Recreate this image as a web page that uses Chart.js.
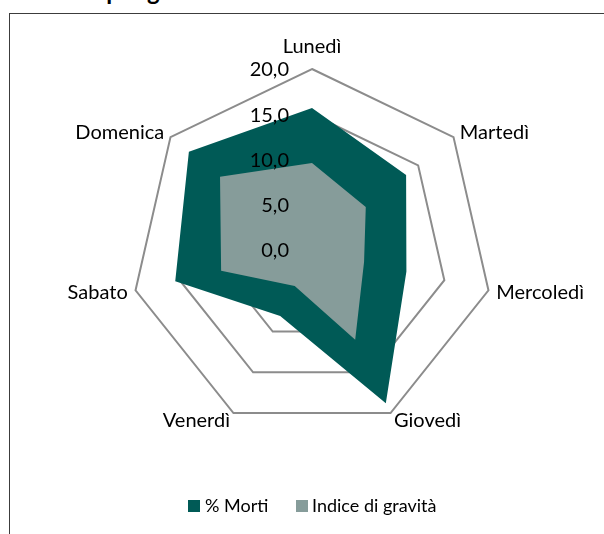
<!DOCTYPE html>
<html>
<head>
<meta charset="utf-8">
<script src="https://cdn.jsdelivr.net/npm/chart.js@4/dist/chart.umd.min.js"></script>
<style>
  html, body { margin: 0; padding: 0; background: #fff; overflow: hidden; }
  #wrap { position: relative; width: 604px; height: 534px; overflow: hidden; }
  #frame { position: absolute; left: 9px; top: 13px; width: 600px; height: 530px;
           border-left: 1px solid #3c3c3c; border-top: 1px solid #3c3c3c; }
  #title { position: absolute; left: 40px; top: -24px; font: bold 24px Lato, sans-serif; color: #000; white-space: nowrap; }
  canvas { position: absolute; left: 0; top: 0; }
  .leg { position: absolute; font: 18px Lato, sans-serif; color: #000; white-space: nowrap; line-height: 18px; }
  .box { position: absolute; width: 12px; height: 12px; }
</style>
</head>
<body>
<div id="wrap">
  <div id="title">Morti per giorno</div>
  <div id="frame"></div>
  <canvas id="c" width="604" height="534"></canvas>
  <div id="legend"></div>
</div>
<script>
// ---- data ----
const categories = ['Lunedì', 'Martedì', 'Mercoledì', 'Giovedì', 'Venerdì', 'Sabato', 'Domenica'];
const seriesNames = ['% Morti', 'Indice di gravità'];
const morti = [15.7, 13.3, 10.7, 18.8, 8.1, 15.5, 17.4];
const indiceGravita = [9.6, 7.6, 5.9, 11.0, 4.4, 10.3, 13.0];
const tickValues = [0, 5, 10, 15, 20];
const tickLabels = ['0,0', '5,0', '10,0', '15,0', '20,0'];

const darkColor = '#005A56';
const lightColor = '#869C9A';
const FONT = 'Lato, sans-serif';

// custom text plugin: tick labels and category labels drawn from the radial scale
const labelsPlugin = {
  id: 'radarText',
  afterDatasetsDraw(chart) {
    const scale = chart.scales.r;
    const ctx = chart.ctx;
    ctx.save();
    ctx.fillStyle = '#000';
    // tick labels
    ctx.font = '20px ' + FONT;
    ctx.textAlign = 'right';
    ctx.textBaseline = 'middle';
    tickValues.forEach((v, i) => {
      const d = scale.getDistanceFromCenterForValue(v);
      ctx.fillText(tickLabels[i], scale.xCenter - 23, scale.yCenter - d + 1);
    });
    // category labels
    ctx.font = '20px ' + FONT;
    categories.forEach((lab, i) => {
      const p = scale.getPointPosition(i, scale.drawingArea + 8);
      if (Math.abs(p.x - scale.xCenter) < 5) {
        ctx.textAlign = 'center';
        ctx.textBaseline = 'alphabetic';
        ctx.fillText(lab, p.x, p.y - 8);
      } else {
        ctx.textAlign = p.x > scale.xCenter ? 'left' : 'right';
        ctx.textBaseline = 'middle';
        ctx.fillText(lab, p.x, p.y);
      }
    });
    ctx.restore();
  }
};

new Chart(document.getElementById('c'), {
  type: 'radar',
  data: {
    labels: categories,
    datasets: [
      { label: seriesNames[0], data: morti, backgroundColor: darkColor, borderWidth: 0,
        pointRadius: 0, fill: 'origin', order: 2 },
      { label: seriesNames[1], data: indiceGravita, backgroundColor: lightColor, borderWidth: 0,
        pointRadius: 0, fill: 'origin', order: 1 }
    ]
  },
  options: {
    responsive: false,
    animation: false,
    layout: { padding: { left: 131, right: 111, top: 69, bottom: 103 } },
    plugins: { legend: { display: false }, tooltip: { enabled: false }, title: { display: false } },
    elements: { line: { tension: 0 } },
    scales: {
      r: {
        min: 0, max: 20,
        ticks: { display: false, stepSize: 5 },
        grid: { color: '#8c8c8c', lineWidth: 2 },
        angleLines: { display: false },
        pointLabels: { display: false }
      }
    }
  },
  plugins: [labelsPlugin]
});

// legend
const legend = document.getElementById('legend');
const legendItems = [
  { name: seriesNames[0], color: darkColor, box: 188, text: 205 },
  { name: seriesNames[1], color: lightColor, box: 296, text: 312 }
];
legendItems.forEach(it => {
  const b = document.createElement('div');
  b.className = 'box';
  b.style.left = it.box + 'px'; b.style.top = '500px'; b.style.background = it.color;
  legend.appendChild(b);
  const t = document.createElement('div');
  t.className = 'leg';
  t.style.left = it.text + 'px'; t.style.top = '496px';
  t.textContent = it.name;
  legend.appendChild(t);
});
</script>
</body>
</html>
